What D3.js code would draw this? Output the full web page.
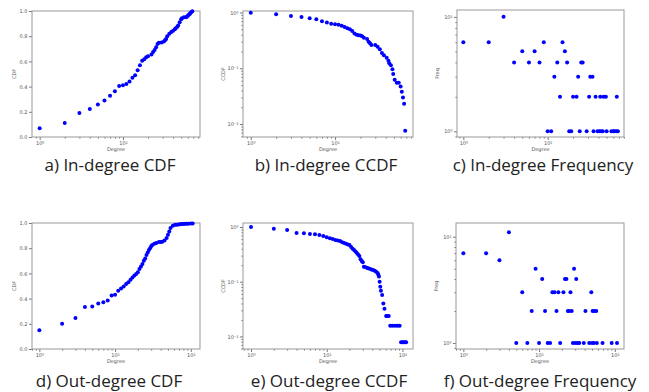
<!DOCTYPE html>
<html>
<head lang="en">
  <title>degree distributions</title>
  <script src="https://d3js.org/d3.v7.min.js" charset="utf-8"></script>
  <style>
    body { margin: 0; background: #fff; }
  </style>
</head>
<body>
  <script>

    // DATA: [degree, value]
    var inCdf = [[1,.069],[2,.111],[3,.19],[4,.222],[5,.257],[6,.29],[7,.328],[8,.363],[9,.405],[10,.41],
      [11,.42],[12,.44],[13,.47],[14,.49],[15,.53],[16,.57],[17,.605],[18,.618],[19,.632],[20,.64],
      [22,.655],[23,.675],[24,.69],[25,.712],[26,.738],[27,.748],[29,.75],[31,.757],[32,.768],[33,.778],
      [34,.80],[36,.82],[38,.833],[40,.844],[42,.855],[43,.863],[45,.875],[46,.884],[48,.91],[50,.935],
      [51,.942],[54,.95],[57,.951],[58,.952],[60,.96],[61,.968],[63,.975],[64,.982],[66,.99],[68,.998]];

    var inCcdf = [[1,.985],[2,.927],[3,.865],[4,.83],[5,.787],[6,.755],[7,.70],[8,.665],[9,.628],[10,.615],
      [11,.605],[12,.58],[13,.55],[14,.52],[15,.50],[16,.466],[17,.42],[18,.40],[19,.39],[20,.385],
      [21,.374],[22,.353],[24,.335],[25,.30],[26,.28],[27,.261],[30,.261],[32,.244],[34,.219],[36,.188],
      [38,.171],[41,.155],[43,.137],[44,.123],[46,.113],[48,.096],[49,.079],[51,.062],[54,.055],[57,.055],
      [60,.047],[62,.038],[64,.030],[66,.023],[68,.0076]];

    var inFreq = [[1,6],[2,6],[3,10],[4,4],[5,5],[6,4],[7,5],[8,4],[9,6],[10,1],[11,1],[12,3],[13,4],
      [14,2],[15,6],[16,5],[17,4],[18,1],[19,1],[20,2],[22,2],[23,3],[24,1],[25,4],[26,4],[29,1],[31,2],
      [32,3],[34,3],[35,1],[37,2],[39,1],[41,1],[42,2],[43,1],[45,1],[46,2],[49,2],[50,1],[57,1],[60,1],
      [62,1],[65,1],[66,2],[68,1]];

    var outCdf = [[1,.148],[2,.201],[3,.246],[4,.333],[5,.338],[6,.362],[7,.372],[8,.385],[9,.425],[10,.43],
      [11,.463],[12,.481],[13,.497],[14,.516],[15,.53],[16,.55],[17,.567],[18,.584],[19,.595],[20,.61],
      [21,.635],[22,.655],[23,.675],[24,.70],[25,.719],[26,.746],[27,.765],[28,.785],[29,.80],[30,.815],
      [31,.825],[33,.836],[35,.841],[38,.849],[40,.85],[42,.852],[45,.862],[48,.88],[50,.907],[52,.933],
      [54,.96],[58,.978],[62,.986],[65,.987],[69,.988],[72,.99],[76,.992],[80,.993],[84,.994],[88,.994],
      [93,.995],[100,.996],[106,.997]];

    var outCcdf = [[1,1.0],[2,.93],[3,.88],[4,.777],[5,.766],[6,.745],[7,.735],[8,.714],[9,.684],[10,.648],
      [11,.621],[12,.603],[13,.578],[14,.565],[15,.555],[16,.525],[17,.51],[18,.495],[19,.48],[20,.468],
      [21,.43],[22,.40],[23,.38],[24,.355],[25,.334],[26,.315],[27,.295],[28,.257],[29,.24],[30,.226],
      [31,.188],[32,.185],[34,.18],[35,.177],[37,.173],[39,.168],[41,.164],[43,.158],[45,.152],[47,.145],
      [48,.136],[49,.124],[50,.10],[51,.081],[52,.068],[54,.057],[56,.04],[58,.032],[61,.0235],[63,.0235],
      [66,.0235],[69,.0157],[74,.0157],[80,.0157],[86,.0157],[92,.0157],[96,.0078],[100,.0078],
      [104,.0078],[108,.0078],[112,.0078]];

    var outFreq = [[1,7],[2,7],[3,6],[4,11],[5,1],[6,3],[7,1],[8,2],[9,5],[10,1],[11,4],[12,2],[13,1],
      [14,1],[15,3],[16,3],[17,2],[18,3],[19,1],[21,3],[22,4],[23,4],[24,2],[25,2],[26,3],[27,2],[28,1],
      [29,5],[30,1],[31,4],[32,1],[34,1],[39,1],[41,2],[46,1],[49,3],[50,1],[51,2],[53,1],[54,2],[57,2],
      [58,1],[69,1],[91,1],[107,1]];

    var cdfTicks = [0, 0.2, 0.4, 0.6, 0.8, 1.0];
    var captions = ["a) In-degree CDF", "b) In-degree CCDF", "c) In-degree Frequency",
                    "d) Out-degree CDF", "e) Out-degree CCDF", "f) Out-degree Frequency"];
    var yLabels = ["CDF", "CCDF", "Freq", "CDF", "CCDF", "Freq"];

    var width = 649;
    var height = 392;

    // plot boxes [x0, y0, x1, y1] and axis limits (log10 for log axes)
    var panels = [
      { data: inCdf,   box: [32, 11, 200, 137],   xd: [-0.092, 1.925], yd: [0, 1],          ylog: false, capX: 110, capY: 171 },
      { data: inCcdf,  box: [243, 11, 413, 137],  xd: [-0.092, 1.925], yd: [-2.233, 0.027], ylog: true,  capX: 326, capY: 171 },
      { data: inFreq,  box: [457, 10, 624, 137],  xd: [-0.075, 1.905], yd: [-0.05, 1.06],   ylog: true,  capX: 543, capY: 171 },
      { data: outCdf,  box: [32, 223, 200, 349],  xd: [-0.097, 2.122], yd: [0, 1],          ylog: false, capX: 109, capY: 387 },
      { data: outCcdf, box: [243, 223, 413, 349], xd: [-0.106, 2.14],  yd: [-2.23, 0.073],  ylog: true,  capX: 329, capY: 387 },
      { data: outFreq, box: [456, 223, 624, 349], xd: [-0.097, 2.122], yd: [-0.056, 1.129], ylog: true,  capX: 540, capY: 387 }
    ];

    var svg = d3.select("body")
      .append("svg")
      .attr("width", width)
      .attr("height", height);

    var supMap = { "0": "\u2070", "1": "\u00b9", "2": "\u00b2", "-": "\u207b" };
    function sup(v) {
      var e = String(Math.round(Math.log10(v)));
      return "10" + e.split("").map(function(c) { return supMap[c]; }).join("");
    }

    function logTicks(lo, hi, minor) {
      var out = [];
      for (var k = Math.floor(lo); k <= Math.ceil(hi); k++) {
        var mults = minor ? [2, 3, 4, 5, 6, 7, 8, 9] : [1];
        mults.forEach(function(m) {
          var v = m * Math.pow(10, k);
          var l = Math.log10(v);
          if (l >= lo && l <= hi) out.push(v);
        });
      }
      return out;
    }

    function styleAxis(g) {
      g.select(".domain").remove();
      g.attr("font-family", "'DejaVu Sans', sans-serif").attr("font-size", 5);
      g.selectAll("line").attr("stroke", "#777");
      g.selectAll("text").attr("fill", "#555");
    }

    panels.forEach(function(p, i) {
      var b = p.box;
      var x = d3.scaleLog()
        .domain([Math.pow(10, p.xd[0]), Math.pow(10, p.xd[1])])
        .range([b[0], b[2]]);
      var y = p.ylog
        ? d3.scaleLog().domain([Math.pow(10, p.yd[0]), Math.pow(10, p.yd[1])]).range([b[3], b[1]])
        : d3.scaleLinear().domain(p.yd).range([b[3], b[1]]);

      var g = svg.append("g").attr("class", "panel");

      // x axis
      g.append("g")
        .attr("transform", "translate(0," + b[3] + ")")
        .call(d3.axisBottom(x).tickValues(logTicks(p.xd[0], p.xd[1], true)).tickSize(1.6).tickFormat(""))
        .call(styleAxis);
      g.append("g")
        .attr("transform", "translate(0," + b[3] + ")")
        .call(d3.axisBottom(x).tickValues(logTicks(p.xd[0], p.xd[1], false)).tickSize(3).tickPadding(1.5).tickFormat(sup))
        .call(styleAxis);

      // y axis
      if (p.ylog) {
        g.append("g")
          .attr("transform", "translate(" + b[0] + ",0)")
          .call(d3.axisLeft(y).tickValues(logTicks(p.yd[0], p.yd[1], true)).tickSize(1.6).tickFormat(""))
          .call(styleAxis);
        g.append("g")
          .attr("transform", "translate(" + b[0] + ",0)")
          .call(d3.axisLeft(y).tickValues(logTicks(p.yd[0], p.yd[1], false)).tickSize(3).tickPadding(1.5).tickFormat(sup))
          .call(styleAxis);
      } else {
        g.append("g")
          .attr("transform", "translate(" + b[0] + ",0)")
          .call(d3.axisLeft(y).tickValues(cdfTicks).tickSize(3).tickPadding(1.5).tickFormat(d3.format(".1f")))
          .call(styleAxis);
      }

      // frame
      g.append("rect")
        .attr("x", b[0]).attr("y", b[1])
        .attr("width", b[2] - b[0]).attr("height", b[3] - b[1])
        .attr("fill", "none")
        .attr("stroke", "#999")
        .attr("stroke-width", 1);

      // axis titles
      g.append("text")
        .attr("x", (b[0] + b[2]) / 2)
        .attr("y", b[3] + 14)
        .attr("text-anchor", "middle")
        .attr("font-family", "'DejaVu Sans', sans-serif")
        .attr("font-size", 5)
        .attr("fill", "#555")
        .text("Degree");

      var off = p.ylog ? 18.5 : 16;
      g.append("text")
        .attr("transform", "translate(" + (b[0] - off) + "," + ((b[1] + b[3]) / 2) + ") rotate(-90)")
        .attr("text-anchor", "middle")
        .attr("font-family", "'DejaVu Sans', sans-serif")
        .attr("font-size", 5)
        .attr("fill", "#555")
        .text(yLabels[i]);

      // points
      g.selectAll("circle")
        .data(p.data)
        .enter().append("circle")
          .attr("cx", function(d) { return x(d[0]); })
          .attr("cy", function(d) { return y(d[1]); })
          .attr("r", 2)
          .attr("fill", "#0000ff");

      // caption
      svg.append("text")
        .attr("x", p.capX)
        .attr("y", p.capY)
        .attr("text-anchor", "middle")
        .attr("font-family", "'Open Sans', sans-serif")
        .attr("font-size", 17)
        .attr("fill", "#222")
        .text(captions[i]);
    });

  </script>
</body>
</html>
